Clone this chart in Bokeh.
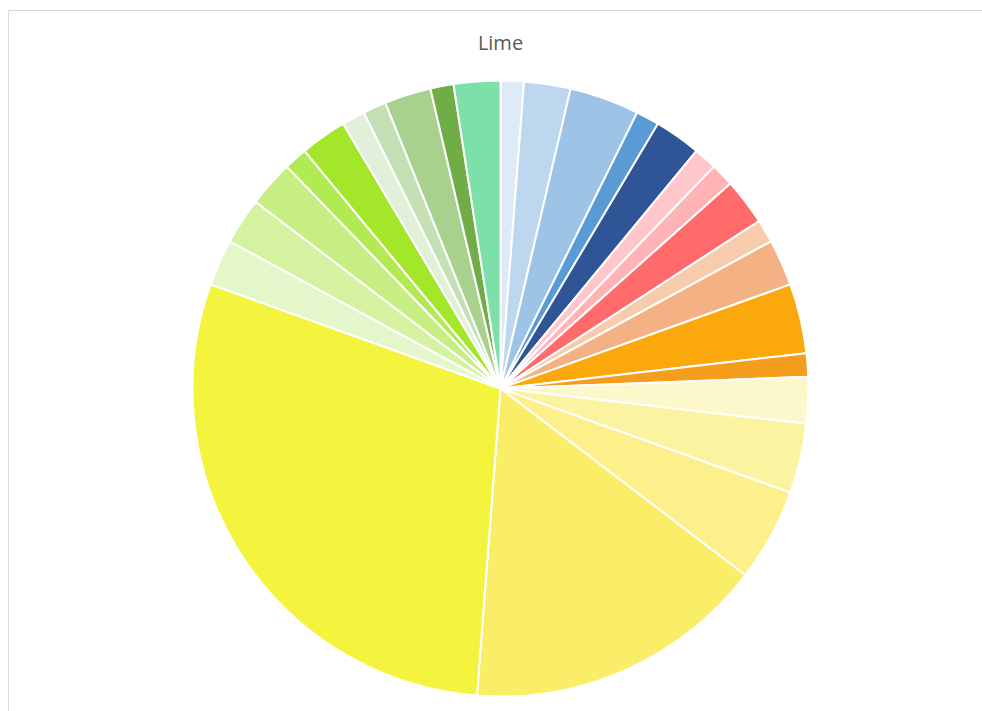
import numpy as np
from bokeh.plotting import figure
from bokeh.models import Range1d, ColumnDataSource
from bokeh.core.properties import value
from bokeh.embed import file_html
from bokeh.resources import INLINE

title = "Lime"
categories = [f"S{i+1}" for i in range(27)]
values = [1, 2, 3, 1, 2, 1, 1, 2, 1, 2, 3, 1, 2, 3, 4, 13, 24, 2, 2, 2, 1, 2, 1, 1, 2, 1, 2]
colors = ["#DEEAF6", "#BDD7EE", "#9DC3E6", "#5B9BD5", "#2F5597",
          "#FFC7CC", "#FFB3B5", "#FF6B6B", "#F8CBAD", "#F4B183",
          "#FBA80C", "#F59E1E", "#FDF8CB", "#FBF3A0", "#FDF08B",
          "#FAED67", "#F4F43E", "#E4F7CB", "#D5F2A0", "#C7EE82",
          "#B2EA54", "#A3E62A", "#E2EFD9", "#C5E0B4", "#A9D18E",
          "#70AD47", "#7DE0A8"]

W, H = 982, 711
cx, cy, r = 500, H - 388, 308

vals = np.array(values, dtype=float)
frac = np.cumsum(vals) / vals.sum()
start_frac = np.concatenate([[0.0], frac[:-1]])
start = np.pi / 2 - 2 * np.pi * start_frac
end = np.pi / 2 - 2 * np.pi * frac

src = ColumnDataSource(dict(cat=categories, val=values, color=colors,
                            start=start, end=end))

p = figure(width=W, height=H, output_backend="svg", toolbar_location=None,
           x_range=Range1d(0, W), y_range=Range1d(0, H), min_border=0)
p.axis.visible = False
p.grid.visible = False
p.outline_line_color = None
p.background_fill_color = "white"
p.border_fill_color = "white"

# chart frame
p.quad(left=[8], right=[W + 20], top=[H - 10], bottom=[-20],
       fill_color=None, line_color="#D9D9D9", line_width=1)

p.wedge(x=cx, y=cy, radius=r, start_angle="start", end_angle="end",
        direction="clock", fill_color="color", line_color="white",
        line_width=2, source=src)

p.text(x=[500], y=[H - 42], text=[title], text_font=value("Open Sans"),
       text_font_size="20px", text_color="#595959", text_align="center",
       text_baseline="middle")

open("out.html", "w").write(file_html(p, INLINE))
